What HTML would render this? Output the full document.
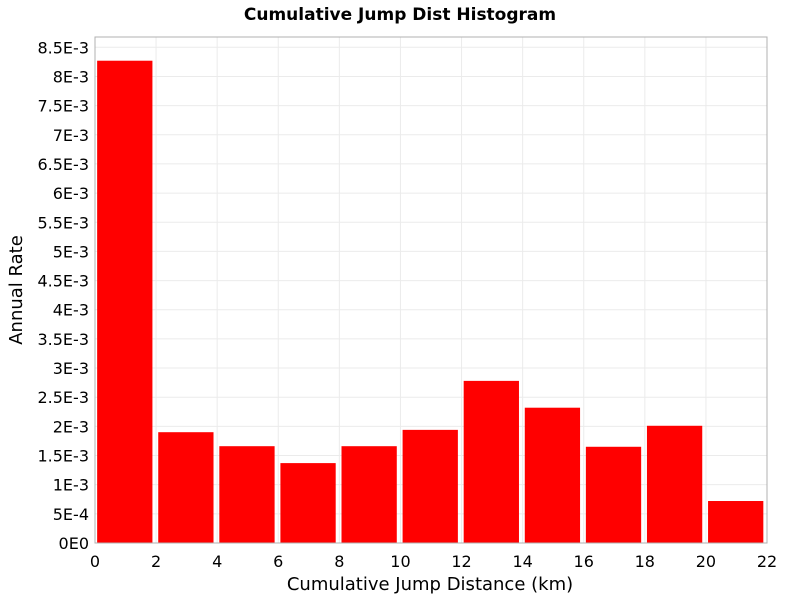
<!DOCTYPE html>
<html><head><meta charset="utf-8"><style>
body{margin:0;background:#fff;font-family:"Liberation Sans","DejaVu Sans",sans-serif}
svg text{font-family:"DejaVu Sans","Liberation Sans",sans-serif}
</style></head><body>
<svg id="chart" width="800" height="600">
<text x="400" y="20" text-anchor="middle" font-size="17" font-weight="bold">Cumulative Jump Dist Histogram</text>
<g id="grid"></g><g id="bars"></g><g id="axes"></g>
<text x="430" y="590" text-anchor="middle" font-size="18">Cumulative Jump Distance (km)</text>
<text transform="translate(22,290) rotate(-90)" text-anchor="middle" font-size="18">Annual Rate</text>
</svg>
<script>
const binCenters=[1,3,5,7,9,11,13,15,17,19,21];
const rates=[8.27e-3,1.90e-3,1.66e-3,1.37e-3,1.66e-3,1.94e-3,2.78e-3,2.32e-3,1.65e-3,2.01e-3,0.72e-3];
const xTicks=[0,2,4,6,8,10,12,14,16,18,20,22];
const yTicks=[0,5e-4,1e-3,1.5e-3,2e-3,2.5e-3,3e-3,3.5e-3,4e-3,4.5e-3,5e-3,5.5e-3,6e-3,6.5e-3,7e-3,7.5e-3,8e-3,8.5e-3];
const yLabels=["0E0","5E-4","1E-3","1.5E-3","2E-3","2.5E-3","3E-3","3.5E-3","4E-3","4.5E-3","5E-3","5.5E-3","6E-3","6.5E-3","7E-3","7.5E-3","8E-3","8.5E-3"];
const L=95,R=767,T=37,B=543;
const xs=v=>L+(v-0)/(22-0)*(R-L);
const ys=v=>B-v/8.5e-3*(B-47.3);
const NS="http://www.w3.org/2000/svg";
function mk(p,t,a){const e=document.createElementNS(NS,t);for(const k in a)e.setAttribute(k,a[k]);p.appendChild(e);return e;}
const grid=document.getElementById('grid'),bars=document.getElementById('bars'),axes=document.getElementById('axes');
xTicks.forEach(v=>{
 const g=mk(grid,'line',{x1:xs(v),x2:xs(v),y1:T,y2:B,stroke:'#ebebeb'});
 
 
 const t=mk(axes,'text',{x:xs(v),y:B+24,'text-anchor':'middle','font-size':16});
 t.textContent=v;
 
 
});
yTicks.forEach((v,i)=>{
 const g=mk(grid,'line',{x1:L,x2:R,y1:ys(v),y2:ys(v),stroke:'#ebebeb'});
 
 
 const t=mk(axes,'text',{x:L-6,y:ys(v)+6,'text-anchor':'end','font-size':16});
 t.textContent=yLabels[i];
 
 
});
binCenters.forEach((c,i)=>{
 const x0=xs(c-0.93),x1=xs(c+0.88);
 const b=mk(bars,'rect',{x:x0,y:ys(rates[i]),width:x1-x0,height:B-ys(rates[i]),fill:'#ff0000'});
 
 
});
const fr=mk(axes,'rect',{x:L,y:T,width:R-L,height:B-T,fill:'none',stroke:'#b0b0b0'});


</script>
</body></html>
